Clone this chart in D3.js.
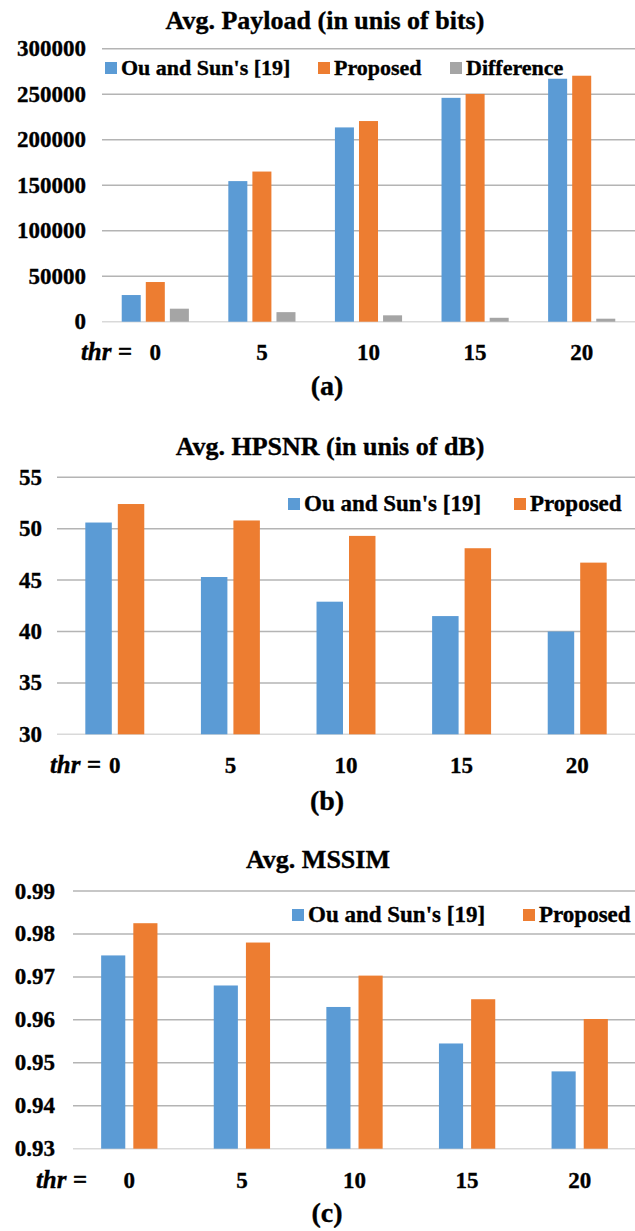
<!DOCTYPE html>
<html>
<head>
<meta charset="utf-8">
<script src="https://cdn.jsdelivr.net/npm/d3@7"></script>
<style>
  body { margin: 0; background: #fff; }
  svg text { font-family: "Liberation Serif", "Times New Roman", serif; font-weight: bold; fill: #000; stroke: #000; stroke-width: 0.35px; }
</style>
</head>
<body>
<div id="chart"></div>
<script>
var thr = ["0", "5", "10", "15", "20"];
var seriesNames = ["Ou and Sun's [19]", "Proposed", "Difference"];
var colors = ["#5b9bd5", "#ed7d31", "#a5a5a5"];

var payloadOu   = [29300, 154500, 213500, 246000, 267000];
var payloadProp = [43600, 165000, 220500, 250300, 270300];
var payloadDiff = [14300, 10500, 7000, 4300, 3300];
var payloadTicks = [0, 50000, 100000, 150000, 200000, 250000, 300000];

var hpsnrOu   = [50.6, 45.3, 42.9, 41.5, 40.0];
var hpsnrProp = [52.4, 50.8, 49.3, 48.1, 46.7];
var hpsnrTicks = [30, 35, 40, 45, 50, 55];

var mssimOu   = [0.975, 0.968, 0.963, 0.9545, 0.948];
var mssimProp = [0.9825, 0.978, 0.9703, 0.9648, 0.9602];
var mssimTicks = [0.93, 0.94, 0.95, 0.96, 0.97, 0.98, 0.99];

var width = 635, height = 1231;

var svg = d3.select("#chart").append("svg")
    .attr("width", width)
    .attr("height", height);

function drawChart(c) {
    var g = svg.append("g");

    var y = d3.scaleLinear().domain(c.domain).range([c.y0, c.y1]);
    var x0 = d3.scaleBand().domain(thr).range([c.x0, c.x1])
        .paddingInner(c.padIn).paddingOuter(c.padIn / 2);
    var names = seriesNames.slice(0, c.series.length);
    var x1 = d3.scaleBand().domain(names).range([0, x0.bandwidth()]).paddingInner(c.padSub);

    // title
    g.append("text")
        .attr("x", c.titleX).attr("y", c.titleY)
        .attr("text-anchor", "middle")
        .style("font-size", "26px")
        .text(c.title);

    // gridlines
    g.selectAll(".grid")
        .data(c.ticks).enter().append("line")
        .attr("x1", c.x0).attr("x2", c.x1)
        .attr("y1", function (d) { return y(d); })
        .attr("y2", function (d) { return y(d); })
        .attr("stroke", function (d, i) { return i == 0 ? "#d9d9d9" : "#b4b4b4"; })
        .attr("stroke-width", 1.5);

    // y tick labels
    g.selectAll(".ytick")
        .data(c.ticks).enter().append("text")
        .attr("x", c.tickX)
        .attr("y", function (d) { return y(d) + 7.5; })
        .attr("text-anchor", "end")
        .style("font-size", c.tickSize + "px")
        .text(function (d) { return c.fmt(d); });

    // bars
    var groups = g.selectAll(".grp")
        .data(thr).enter().append("g")
        .attr("transform", function (d) { return "translate(" + x0(d) + ",0)"; });

    groups.selectAll("rect")
        .data(function (d, i) {
            return c.series.map(function (s, k) { return { key: names[k], value: s[i], k: k }; });
        })
        .enter().append("rect")
        .attr("x", function (d) { return x1(d.key); })
        .attr("width", x1.bandwidth())
        .attr("y", function (d) { return y(d.value); })
        .attr("height", function (d) { return y(c.domain[0]) - y(d.value); })
        .attr("fill", function (d) { return colors[d.k]; });

    // x labels
    g.selectAll(".xlab")
        .data(thr).enter().append("text")
        .attr("x", function (d) { return x0(d) + x0.bandwidth() / 2; })
        .attr("y", c.xLabY)
        .attr("text-anchor", "middle")
        .style("font-size", "23px")
        .text(function (d) { return d; });

    g.append("text")
        .attr("x", c.thrX).attr("y", c.xLabY)
        .attr("text-anchor", "end")
        .style("font-size", "25px")
        .style("font-style", "italic")
        .text("thr =");

    // legend
    var leg = g.selectAll(".leg")
        .data(names).enter().append("g")
        .attr("transform", function (d, i) { return "translate(" + c.legX[i] + "," + c.legY + ")"; });
    leg.append("rect")
        .attr("x", 0).attr("y", -13)
        .attr("width", 12).attr("height", 12)
        .attr("fill", function (d, i) { return colors[i]; });
    leg.append("text")
        .attr("x", 16).attr("y", 0)
        .style("font-size", c.legSize + "px")
        .text(function (d) { return d; });

    // caption
    g.append("text")
        .attr("x", 327).attr("y", c.capY)
        .attr("text-anchor", "middle")
        .style("font-size", "28px")
        .text(c.caption);
}

drawChart({
    title: "Avg. Payload (in unis of bits)", titleX: 325, titleY: 29,
    series: [payloadOu, payloadProp, payloadDiff],
    domain: [0, 300000], ticks: payloadTicks, fmt: d3.format("d"),
    y0: 321.7, y1: 48.7, x0: 102, x1: 635, padIn: 0.37, padSub: 0.21,
    tickX: 86, tickSize: 23, xLabY: 360, thrX: 132,
    legX: [105, 318, 450], legY: 75, legSize: 22,
    capY: 395, caption: "(a)"
});

drawChart({
    title: "Avg. HPSNR (in unis of dB)", titleX: 330, titleY: 455,
    series: [hpsnrOu, hpsnrProp],
    domain: [30, 55], ticks: hpsnrTicks, fmt: d3.format("d"),
    y0: 734.3, y1: 477.3, x0: 57, x1: 635, padIn: 0.49, padSub: 0.185,
    tickX: 42, tickSize: 23, xLabY: 773, thrX: 101,
    legX: [288, 514], legY: 511, legSize: 23,
    capY: 810, caption: "(b)"
});

drawChart({
    title: "Avg. MSSIM", titleX: 318, titleY: 868,
    series: [mssimOu, mssimProp],
    domain: [0.93, 0.99], ticks: mssimTicks, fmt: d3.format(".2f"),
    y0: 1148.7, y1: 891, x0: 73, x1: 636, padIn: 0.5, padSub: 0.25,
    tickX: 55, tickSize: 23, xLabY: 1188, thrX: 87,
    legX: [292, 523], legY: 922, legSize: 23,
    capY: 1222, caption: "(c)"
});
</script>
</body>
</html>
